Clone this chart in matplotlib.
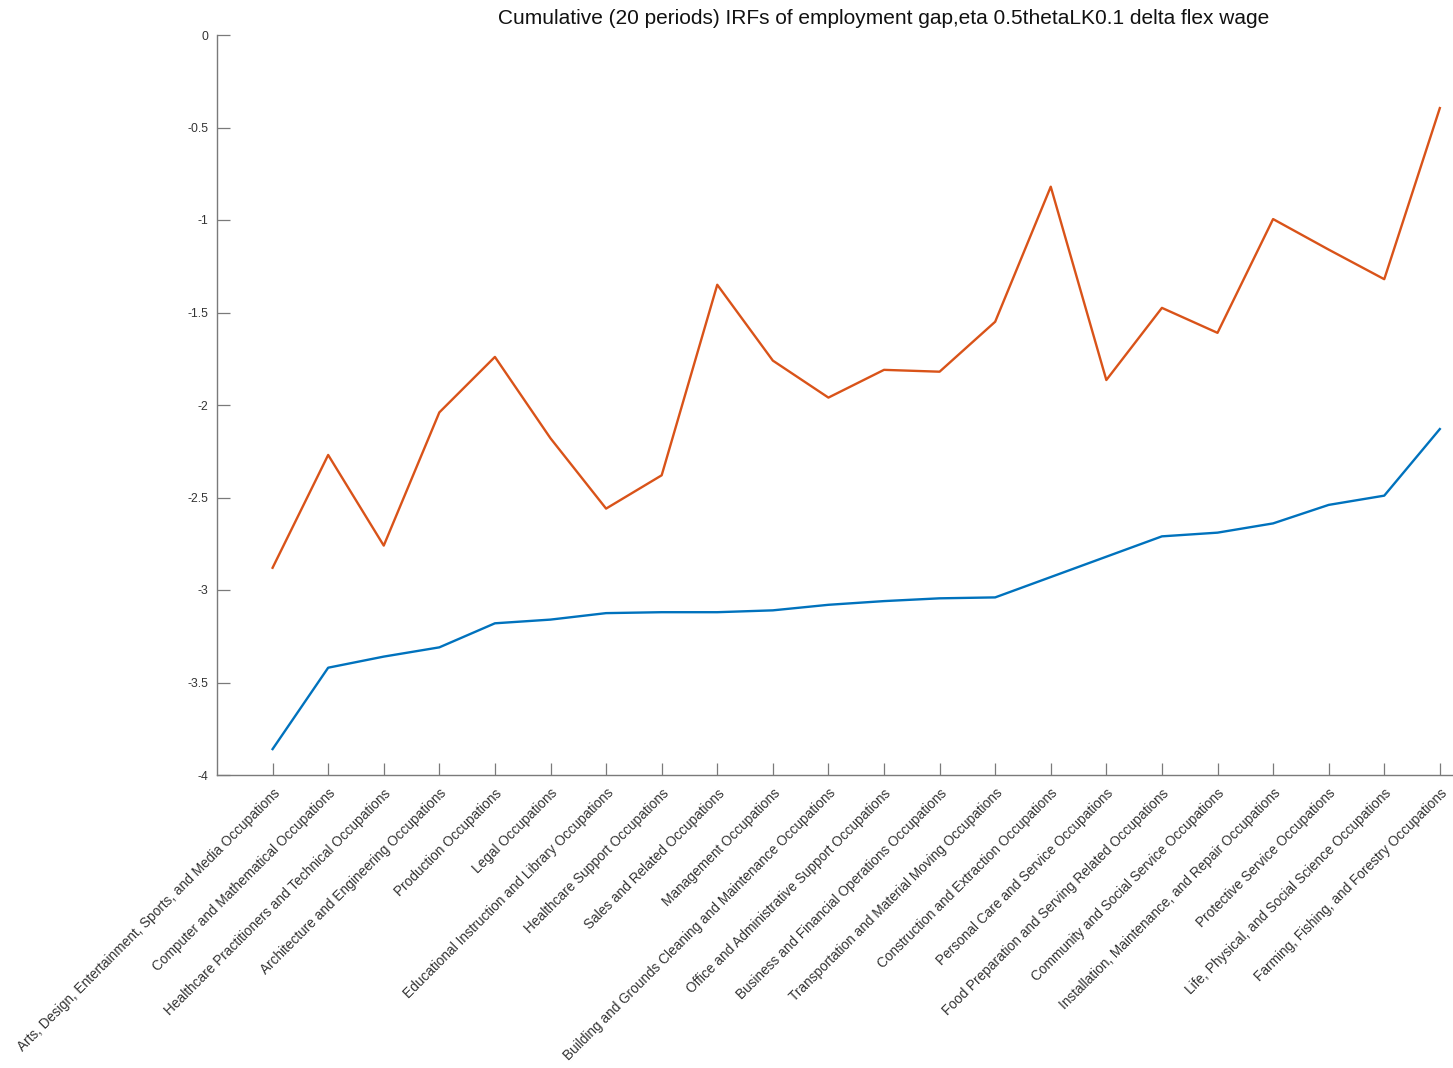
import matplotlib
matplotlib.use("Agg")
import matplotlib.pyplot as plt
import numpy as np

plt.rcParams['font.family'] = ['Liberation Sans', 'DejaVu Sans']

occupations = [
    "Arts, Design, Entertainment, Sports, and Media Occupations",
    "Computer and Mathematical Occupations",
    "Healthcare Practitioners and Technical Occupations",
    "Architecture and Engineering Occupations",
    "Production Occupations",
    "Legal Occupations",
    "Educational Instruction and Library Occupations",
    "Healthcare Support Occupations",
    "Sales and Related Occupations",
    "Management Occupations",
    "Building and Grounds Cleaning and Maintenance Occupations",
    "Office and Administrative Support Occupations",
    "Business and Financial Operations Occupations",
    "Transportation and Material Moving Occupations",
    "Construction and Extraction Occupations",
    "Personal Care and Service Occupations",
    "Food Preparation and Serving Related Occupations",
    "Community and Social Service Occupations",
    "Installation, Maintenance, and Repair Occupations",
    "Protective Service Occupations",
    "Life, Physical, and Social Science Occupations",
    "Farming, Fishing, and Forestry Occupations",
]

irf_blue = [-3.86, -3.42, -3.36, -3.31, -3.18, -3.16, -3.125, -3.12, -3.12, -3.11, -3.08,
            -3.06, -3.045, -3.04, -2.93, -2.82, -2.71, -2.69, -2.64, -2.54, -2.49, -2.13]
irf_red = [-2.88, -2.27, -2.76, -2.04, -1.74, -2.18, -2.56, -2.38, -1.35, -1.76, -1.96,
           -1.81, -1.82, -1.55, -0.82, -1.865, -1.475, -1.61, -0.995, -1.16, -1.32, -0.395]

title_text = "Cumulative (20 periods) IRFs of employment gap,eta 0.5thetaLK0.1 delta flex wage"
yticks = [-4, -3.5, -3, -2.5, -2, -1.5, -1, -0.5, 0]
ytick_labels = ["-4", "-3.5", "-3", "-2.5", "-2", "-1.5", "-1", "-0.5", "0"]

W, H = 1453, 1068
fig = plt.figure(figsize=(W / 100, H / 100), dpi=100)
left_px, right_px, top_px, bottom_px = 217, 1551, 35, 775
ax = fig.add_axes([left_px / W, 1 - bottom_px / H,
                   (right_px - left_px) / W, (bottom_px - top_px) / H])

x = np.arange(1, len(occupations) + 1)
ax.plot(x, irf_blue, color='#0072BD', lw=1.7)
ax.plot(x, irf_red, color='#D95319', lw=1.7)

ax.set_xlim(0, 24)
ax.set_ylim(-4, 0)
ax.set_yticks(yticks)
ax.set_yticklabels(ytick_labels)
ax.set_xticks(x)
ax.set_xticklabels(occupations, rotation=45, ha='right', va='top',
                   rotation_mode='anchor', fontsize=9.8)

axis_color = '#7a7a7a'
for side in ['top', 'right']:
    ax.spines[side].set_visible(False)
for side in ['left', 'bottom']:
    ax.spines[side].set_color(axis_color)
    ax.spines[side].set_linewidth(1.0)
ax.tick_params(axis='both', direction='in', length=9, width=0.9, color=axis_color,
               labelcolor='#333333')
ax.tick_params(axis='y', labelsize=8.8, pad=6)
ax.tick_params(axis='x', pad=8)

ax.set_title(title_text, fontsize=15, color='#111111', pad=8)

fig.savefig("out.png", dpi=100)
